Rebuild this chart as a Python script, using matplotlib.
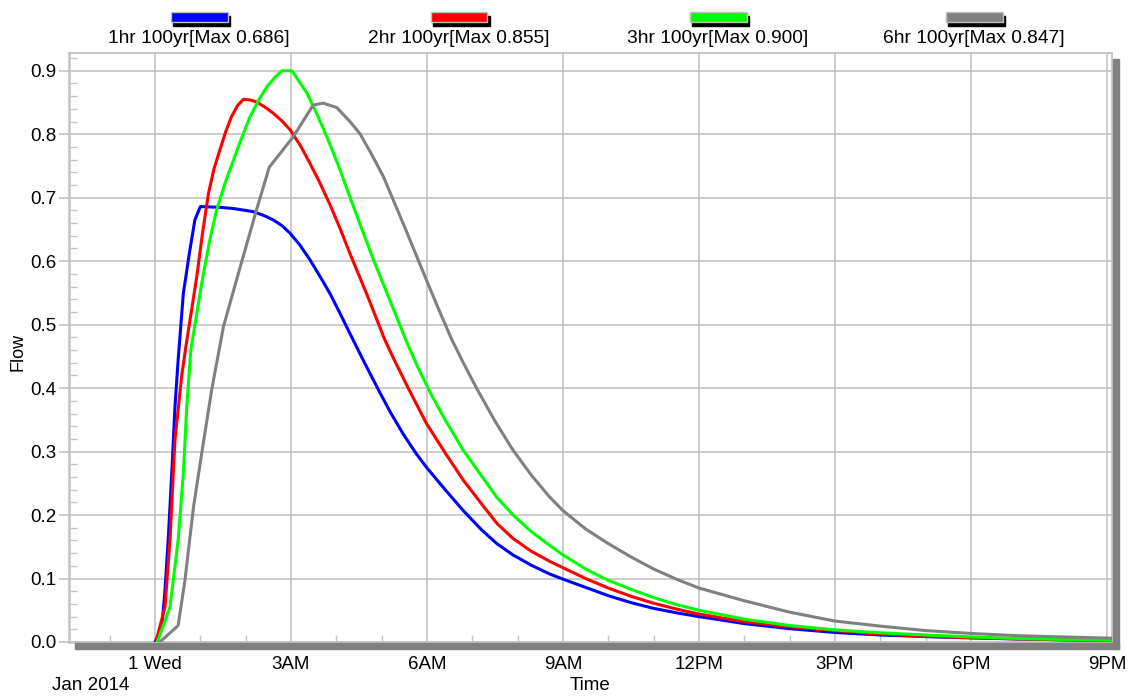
import matplotlib
matplotlib.use("Agg")
import matplotlib.pyplot as plt
from matplotlib.patches import Rectangle
from matplotlib.ticker import MultipleLocator, FixedLocator

plt.rcParams['font.family'] = ['Liberation Sans', 'DejaVu Sans']

# ---- data (hours after 1 Jan 2014 00:00, flow) ----
hours_1hr = [0.0, 0.15, 0.22, 0.29, 0.37, 0.44, 0.51, 0.625, 0.757, 0.88, 1.0, 1.4,
             1.73, 2.17, 2.4, 2.61, 2.8, 2.98, 3.2, 3.42, 3.64, 3.86, 4.08, 4.30, 4.6,
             4.96, 5.2, 5.48, 5.75, 5.99, 6.4, 6.80, 7.2, 7.54, 7.9, 8.3, 8.71, 9.0,
             9.5, 10.0, 10.5, 11.0, 11.5, 12.0, 13.0, 14.0, 15.0, 16.0, 17.0, 18.0,
             19.0, 20.0, 21.1]
flow_1hr = [0.0, 0.023, 0.081, 0.160, 0.266, 0.370, 0.444, 0.549, 0.612, 0.665, 0.686,
            0.685, 0.683, 0.678, 0.672, 0.665, 0.656, 0.644, 0.625, 0.602, 0.576, 0.549,
            0.518, 0.486, 0.443, 0.393, 0.361, 0.327, 0.298, 0.275, 0.240, 0.207, 0.177,
            0.155, 0.137, 0.121, 0.107, 0.099, 0.086, 0.073, 0.062, 0.053, 0.046, 0.040,
            0.029, 0.021, 0.015, 0.011, 0.0085, 0.0065, 0.0048, 0.0035, 0.0025]

hours_2hr = [0.02, 0.22, 0.33, 0.44, 0.59, 0.68, 0.92, 1.05, 1.18, 1.3, 1.43, 1.56,
             1.69, 1.82, 1.95, 2.1, 2.24, 2.42, 2.61, 2.8, 2.98, 3.2, 3.42, 3.64, 3.86,
             4.08, 4.30, 4.7, 5.07, 5.26, 5.6, 5.99, 6.4, 6.80, 7.2, 7.54, 7.9, 8.3, 8.71,
             9.0, 9.5, 10.0, 10.5, 11.0, 11.5, 12.0, 13.0, 14.0, 15.0, 16.0, 17.0, 18.0,
             19.0, 20.0, 21.1]
flow_2hr = [0.0, 0.055, 0.160, 0.318, 0.420, 0.465, 0.575, 0.645, 0.707, 0.745, 0.775,
            0.804, 0.828, 0.845, 0.855, 0.854, 0.851, 0.843, 0.833, 0.821, 0.807, 0.783,
            0.754, 0.723, 0.689, 0.652, 0.612, 0.543, 0.476, 0.447, 0.398, 0.344, 0.298,
            0.255, 0.218, 0.187, 0.163, 0.143, 0.127, 0.117, 0.100, 0.085, 0.072, 0.061,
            0.052, 0.044, 0.032, 0.024, 0.018, 0.0125, 0.009, 0.0067, 0.005, 0.0036, 0.0025]

hours_3hr = [0.05, 0.33, 0.51, 0.625, 0.70, 0.79, 1.03, 1.2, 1.36, 1.55, 1.73, 1.9,
             2.10, 2.28, 2.47, 2.65, 2.80, 3.02, 3.35, 3.57, 3.79, 4.05, 4.30, 4.56,
             4.82, 5.2, 5.55, 5.77, 6.07, 6.4, 6.80, 7.2, 7.54, 7.9, 8.3, 8.71, 9.0,
             9.5, 10.0, 10.5, 11.0, 11.5, 12.0, 13.0, 14.0, 15.0, 16.0, 17.0, 18.0,
             19.0, 20.0, 21.1]
flow_3hr = [0.0, 0.055, 0.160, 0.265, 0.370, 0.460, 0.565, 0.630, 0.681, 0.724, 0.759,
            0.792, 0.828, 0.853, 0.875, 0.890, 0.900, 0.900, 0.865, 0.832, 0.796, 0.750,
            0.701, 0.651, 0.602, 0.535, 0.473, 0.437, 0.393, 0.350, 0.302, 0.262, 0.228,
            0.200, 0.174, 0.152, 0.137, 0.115, 0.097, 0.083, 0.070, 0.059, 0.050, 0.036,
            0.026, 0.019, 0.0145, 0.011, 0.008, 0.0055, 0.004, 0.0028]

hours_6hr = [0.11, 0.51, 0.66, 0.85, 1.03, 1.25, 1.51, 1.88, 2.24, 2.52, 3.05, 3.49,
             3.71, 4.01, 4.30, 4.52, 4.75, 5.04, 5.5, 5.99, 6.27, 6.55, 6.8, 7.10, 7.5,
             7.90, 8.3, 8.71, 9.0, 9.5, 10.0, 10.5, 11.0, 11.5, 12.0, 13.0, 14.0, 15.0,
             16.0, 17.0, 18.0, 19.0, 20.0, 21.1]
flow_6hr = [0.0, 0.026, 0.097, 0.213, 0.297, 0.397, 0.497, 0.591, 0.681, 0.748, 0.796,
            0.846, 0.849, 0.842, 0.820, 0.801, 0.772, 0.733, 0.655, 0.570, 0.522, 0.476,
            0.440, 0.399, 0.348, 0.302, 0.263, 0.228, 0.207, 0.178, 0.155, 0.134, 0.115,
            0.099, 0.085, 0.065, 0.047, 0.033, 0.025, 0.018, 0.0135, 0.010, 0.008, 0.006]

series_labels = ["1hr 100yr[Max 0.686]", "2hr 100yr[Max 0.855]",
                 "3hr 100yr[Max 0.900]", "6hr 100yr[Max 0.847]"]
series_colors = ["#0000ff", "#ff0000", "#00ff00", "#808080"]

xtick_hours = [0, 3, 6, 9, 12, 15, 18, 21]
xtick_labels = ["1 Wed", "3AM", "6AM", "9AM", "12PM", "3PM", "6PM", "9PM"]
ytick_values = [0.0, 0.1, 0.2, 0.3, 0.4, 0.5, 0.6, 0.7, 0.8, 0.9]

# ---- figure ----
W, H = 1132, 698
fig = plt.figure(figsize=(W / 100, H / 100), dpi=100)

def fx(x):
    return x / W

def fy(y):
    return 1 - y / H

L, R, T, B = 69, 1112, 53, 642
ax = fig.add_axes([fx(L), fy(B), fx(R) - fx(L), fy(T) - fy(B)])

# drop-shadow bars along bottom and right of the plot frame
fig.patches.append(Rectangle((fx(75), fy(649)), fx(1119) - fx(75), fy(643) - fy(649),
                             transform=fig.transFigure, color="#808080", zorder=0))
fig.patches.append(Rectangle((fx(1113), fy(649)), fx(1119) - fx(1113), fy(59) - fy(649),
                             transform=fig.transFigure, color="#808080", zorder=0))

series = [(hours_1hr, flow_1hr), (hours_2hr, flow_2hr),
          (hours_3hr, flow_3hr), (hours_6hr, flow_6hr)]
for (hx, fl), c in zip(series, series_colors):
    ax.plot(hx, fl, color=c, lw=2.2, solid_joinstyle="round", zorder=3)

ax.set_xlim(-1.897, 21.11)
ax.set_ylim(0, 0.928)

ax.xaxis.set_major_locator(FixedLocator(xtick_hours))
ax.set_xticklabels(xtick_labels)
ax.xaxis.set_minor_locator(MultipleLocator(1))
ax.yaxis.set_major_locator(FixedLocator(ytick_values))
ax.set_yticklabels([f"{v:.1f}" for v in ytick_values])
ax.yaxis.set_minor_locator(MultipleLocator(0.02))

gc = "#c4c4c4"
ax.grid(True, which="major", color=gc, lw=1.2, zorder=1)
for s in ax.spines.values():
    s.set_color(gc)
    s.set_linewidth(1.3)
ax.spines["left"].set_linewidth(1.8)
ax.spines["bottom"].set_linewidth(1.8)

ax.tick_params(axis="y", which="major", direction="out", length=7, width=1.2, color=gc,
               labelsize=13.5, pad=2)
ax.tick_params(axis="y", which="minor", direction="in", length=5.5, width=1.0, color=gc)
ax.tick_params(axis="x", which="major", direction="out", length=6, width=1.2, color=gc,
               labelsize=13.5, pad=4)
ax.tick_params(axis="x", which="minor", direction="in", length=5, width=1.0, color=gc)

fig.text(fx(18), fy(352), "Flow", rotation=90, ha="center", va="center", fontsize=13)
fig.text(fx(590), fy(686), "Time", ha="center", va="center", fontsize=13.5)
fig.text(fx(91), fy(686), "Jan 2014", ha="center", va="center", fontsize=13.5)

# legend (top, four evenly spaced entries)
centers = [199, 459, 718, 974]
for cx, lab, col in zip(centers, series_labels, series_colors):
    sw, sh = 57, 10
    fig.patches.append(Rectangle((fx(cx - sw / 2 + 2.5), fy(14 + sh + 2)), fx(sw), fy(0) - fy(sh),
                                 transform=fig.transFigure, color="black", zorder=2))
    fig.patches.append(Rectangle((fx(cx - sw / 2), fy(12 + sh)), fx(sw), fy(0) - fy(sh),
                                 transform=fig.transFigure, facecolor=col, edgecolor="#c0c0c0",
                                 lw=1.0, zorder=3))
    fig.text(fx(cx), fy(38.5), lab, ha="center", va="center", fontsize=13.8)

fig.savefig("out.png", dpi=100)
